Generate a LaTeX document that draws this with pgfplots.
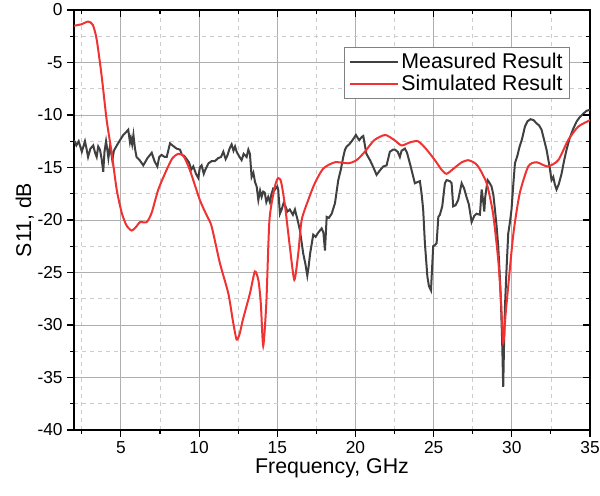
\documentclass[border=0pt]{standalone}
\usepackage{fontspec}
\setmainfont{Liberation Sans}
\usepackage{pgfplots}
\pgfplotsset{compat=1.18}
\usetikzlibrary{calc}
\definecolor{meas}{RGB}{64,64,64}
\definecolor{sim}{RGB}{240,50,50}
\definecolor{gmaj}{RGB}{175,175,175}
\definecolor{gmin}{RGB}{205,205,205}
\begin{document}
\begin{tikzpicture}
\pgfplotsset{
  common/.style={
    scale only axis, width=387pt, height=315pt,
    xmin=2, xmax=35, ymin=-40, ymax=0,
    xtick={5,10,...,35}, minor xtick={2.5,7.5,...,32.5},
    ytick={-40,-35,...,0}, minor ytick={-37.5,-32.5,...,-2.5},
    axis line style={line width=1pt, black},
    major tick style={line width=0.8pt, black},
    minor tick style={line width=0.8pt, black},
    major tick length=5pt, minor tick length=3pt,
  }
}
\begin{axis}[common, name=ax,
  tick align=outside, xtick pos=lower, ytick pos=left,
  grid=both,
  major grid style={line width=0.7pt, gmaj},
  minor grid style={line width=0.5pt, gmin, dashed},
  ticklabel style={font=\fontsize{13}{15}\selectfont},
  /pgf/number format/assume math mode=true,
  xlabel={Frequency, GHz}, ylabel={S11, dB},
  label style={font=\fontsize{16}{19}\selectfont},
  xlabel style={yshift=3pt},
  ylabel style={yshift=-4pt},
  legend style={at={(0.961,0.912)}, anchor=north east, draw=gray, line width=0.8pt,
    fill=white, font=\fontsize{16}{19}\selectfont, inner xsep=3pt, inner ysep=2.5pt,
    row sep=-1pt},
  legend cell align=left,
  legend image code/.code={\draw[#1, line width=1.5pt] (0pt,0pt) -- (36pt,0pt);},
]
\addplot[meas, line width=1.5pt, sharp plot] coordinates {
(2.0,-12.4) (2.15,-12.9) (2.3,-12.5) (2.5,-13.5) (2.7,-12.5) (2.8,-13.2) (2.9,-14.0) (3.05,-13.2) (3.23,-12.9) (3.35,-13.6) (3.45,-14.0) (3.55,-13.0) (3.66,-13.3) (3.77,-14.2) (3.87,-15.4) (3.95,-13.5) (4.05,-12.5) (4.15,-13.5) (4.2,-14.1) (4.3,-13.0) (4.35,-13.3) (4.45,-14.3) (4.55,-13.4) (4.7,-13.0) (4.9,-12.5) (5.15,-11.9) (5.35,-11.6) (5.47,-11.4) (5.58,-12.6) (5.64,-12.2) (5.72,-12.8) (5.8,-11.9) (5.9,-13.2) (6.0,-14.0) (6.2,-14.3) (6.43,-14.8) (6.7,-14.1) (6.97,-13.6) (7.15,-14.4) (7.33,-14.9) (7.45,-14.0) (7.6,-13.8) (7.8,-14.0) (7.93,-14.0) (8.14,-12.7) (8.3,-12.9) (8.56,-13.2) (8.78,-13.3) (8.9,-13.8) (9.05,-13.9) (9.2,-14.2) (9.35,-14.5) (9.5,-15.2) (9.63,-14.9) (9.8,-15.6) (9.95,-16.0) (10.05,-15.0) (10.16,-14.8) (10.3,-15.6) (10.4,-15.2) (10.6,-14.6) (10.8,-14.4) (11.0,-14.4) (11.23,-14.1) (11.4,-14.0) (11.55,-13.5) (11.7,-14.2) (11.8,-13.9) (11.95,-13.2) (12.08,-12.8) (12.2,-13.4) (12.3,-13.0) (12.4,-13.5) (12.55,-13.9) (12.72,-14.3) (12.85,-13.7) (13.04,-14.0) (13.15,-13.3) (13.25,-13.7) (13.36,-15.9) (13.47,-15.5) (13.58,-16.4) (13.68,-16.8) (13.79,-18.1) (13.9,-17.2) (14.0,-17.8) (14.1,-17.3) (14.2,-17.4) (14.3,-18.3) (14.42,-17.8) (14.53,-18.3) (14.63,-17.5) (14.74,-17.0) (14.85,-17.1) (15.0,-16.8) (15.06,-17.1) (15.17,-19.4) (15.28,-19.0) (15.4,-18.4) (15.5,-18.6) (15.65,-19.2) (15.8,-19.0) (16.0,-19.5) (16.13,-19.0) (16.3,-20.0) (16.45,-21.0) (16.66,-23.2) (16.8,-24.2) (16.92,-25.3) (17.0,-24.5) (17.1,-23.2) (17.3,-21.4) (17.45,-21.6) (17.62,-21.2) (17.84,-20.8) (17.95,-21.2) (18.05,-22.9) (18.16,-19.7) (18.3,-19.8) (18.48,-19.4) (18.69,-18.4) (18.9,-16.2) (19.05,-15.3) (19.22,-14.0) (19.33,-13.3) (19.44,-13.0) (19.6,-12.8) (19.76,-12.5) (19.9,-12.2) (20.03,-11.9) (20.15,-12.2) (20.24,-12.4) (20.4,-12.1) (20.5,-12.0) (20.7,-13.7) (20.93,-14.3) (21.15,-15.0) (21.35,-15.7) (21.55,-15.3) (21.78,-14.9) (21.99,-14.8) (22.2,-13.5) (22.4,-13.3) (22.52,-13.3) (22.7,-13.5) (22.84,-14.0) (22.95,-13.4) (23.16,-13.2) (23.3,-13.6) (23.37,-14.0) (23.55,-15.0) (23.7,-15.9) (23.8,-16.5) (23.95,-16.4) (24.12,-16.3) (24.23,-17.5) (24.33,-19.0) (24.44,-22.2) (24.6,-25.4) (24.7,-26.3) (24.83,-26.7) (24.97,-22.5) (25.08,-22.4) (25.19,-22.2) (25.3,-19.7) (25.4,-19.5) (25.55,-18.7) (25.72,-16.5) (25.83,-16.2) (26.04,-16.3) (26.15,-16.5) (26.25,-18.7) (26.4,-18.6) (26.57,-18.1) (26.79,-16.5) (26.95,-17.0) (27.1,-17.8) (27.25,-18.5) (27.43,-20.2) (27.6,-19.6) (27.75,-19.4) (27.96,-19.5) (28.07,-17.1) (28.15,-18.0) (28.24,-19.2) (28.3,-17.8) (28.45,-16.2) (28.55,-16.4) (28.7,-16.8) (28.82,-17.6) (28.92,-19.0) (29.02,-20.5) (29.13,-22.5) (29.22,-25.0) (29.3,-27.6) (29.38,-31.5) (29.45,-35.9) (29.5,-32.0) (29.56,-28.3) (29.67,-24.4) (29.77,-21.3) (29.88,-20.2) (29.98,-19.0) (30.1,-16.5) (30.2,-14.6) (30.35,-13.9) (30.5,-13.0) (30.65,-12.3) (30.84,-11.1) (31.0,-10.6) (31.2,-10.4) (31.4,-10.5) (31.58,-10.8) (31.75,-11.0) (31.9,-11.4) (32.05,-12.3) (32.22,-13.3) (32.4,-14.8) (32.54,-16.2) (32.65,-15.9) (32.75,-16.6) (32.86,-17.1) (33.0,-16.6) (33.18,-15.6) (33.35,-14.3) (33.5,-13.3) (33.7,-12.2) (33.93,-11.3) (34.15,-10.6) (34.35,-10.2) (34.55,-9.9) (34.78,-9.6) (35,-9.5)
};
\addlegendentry{Measured Result}
\addplot[sim, line width=1.5pt, smooth, tension=0.4] coordinates {
(2,-1.5) (2.5,-1.35) (2.9,-1.1) (3.2,-1.4) (3.45,-2.8) (3.77,-6.3) (4.09,-10.5) (4.41,-13.6) (4.73,-17.1) (5.05,-19.3) (5.35,-20.5) (5.69,-21.0) (6.0,-20.6) (6.22,-20.2) (6.65,-20.2) (6.97,-19.3) (7.39,-17.1) (7.93,-15.2) (8.3,-14.1) (8.67,-13.7) (9.0,-13.9) (9.4,-15.2) (10.05,-18.1) (10.5,-19.6) (10.8,-20.6) (11.33,-24.1) (11.87,-27) (12.15,-29.5) (12.4,-31.4) (12.6,-30.8) (12.8,-29.5) (13.25,-27) (13.57,-24.9) (13.8,-25.8) (13.95,-28) (14.1,-32) (14.3,-27.9) (14.5,-20) (14.85,-16.8) (15.06,-16.0) (15.25,-16.4) (15.5,-18.7) (15.8,-22.5) (16.09,-25.7) (16.34,-23.2) (16.56,-20) (16.98,-18.1) (17.4,-16.5) (17.94,-15.1) (18.69,-14.5) (19.54,-14.6) (20.07,-14.3) (20.6,-13.5) (21.2,-12.4) (21.9,-11.9) (22.5,-12.4) (22.95,-12.9) (23.5,-12.6) (24.0,-12.5) (24.5,-13.2) (25.08,-14.3) (25.5,-15.2) (25.83,-15.6) (26.36,-15.0) (26.8,-14.5) (27.2,-14.3) (27.55,-14.5) (27.85,-14.9) (28.39,-16.5) (28.8,-19.4) (29.13,-23.8) (29.3,-27.5) (29.45,-31.7) (29.6,-29) (29.77,-26.3) (30.1,-21.3) (30.5,-17.5) (31.05,-14.9) (31.58,-14.5) (32.3,-14.9) (32.97,-14.3) (33.6,-12.4) (34.25,-11.1) (35,-10.5)
};
\addlegendentry{Simulated Result}
\end{axis}
\begin{axis}[common, tick align=inside, xtick pos=upper, ytick pos=right,
  xticklabels={}, yticklabels={}, axis line style={draw=none}]
\end{axis}
\pgfresetboundingbox
\path ($(ax.south west)+(-55.5pt,-48.75pt)$) rectangle ($(ax.north east)+(7.5pt,7.5pt)$);
\end{tikzpicture}
\end{document}
